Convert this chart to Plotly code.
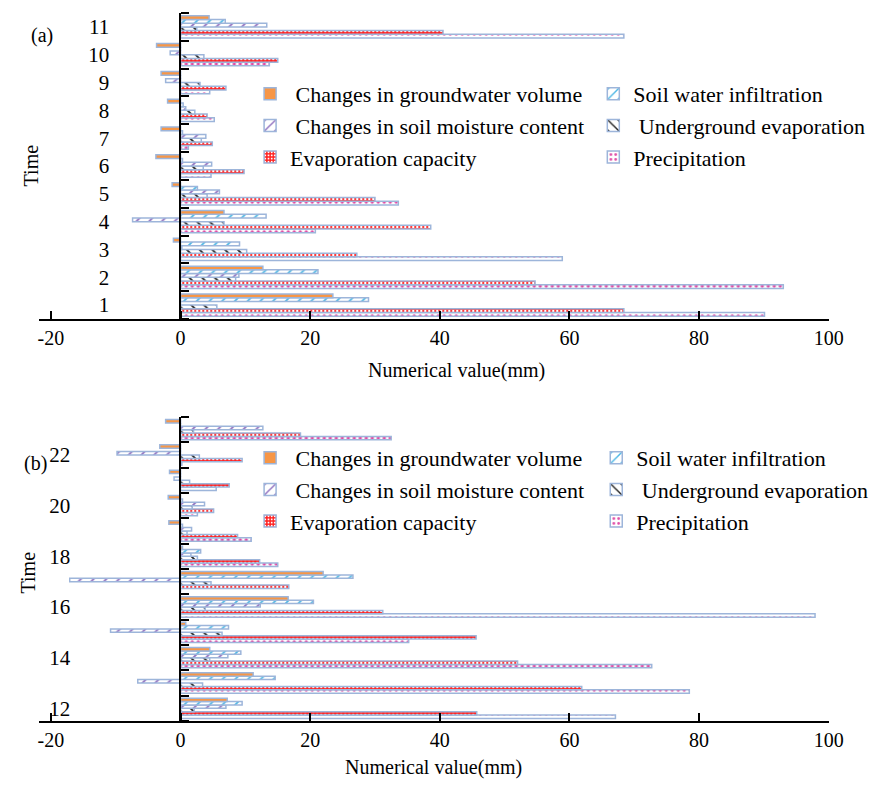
import plotly.graph_objects as go

W, H = 877, 790

# ---------------- data ----------------
times_a = list(range(1, 12))
groundwater_a = [23.5, 12.7, -1.1, 6.7, -1.3, -3.8, -3.0, -2.0, -3.0, -3.7, 4.4]
infiltration_a = [29.0, 21.2, 9.1, 13.2, 2.6, 0.3, 0.3, 0.4, 0.0, 0.0, 6.9]
soil_moist_a = [0.0, 9.0, 0.2, -7.4, 6.0, 4.8, 3.9, 0.8, -2.3, -1.6, 13.3]
under_evap_a = [5.6, 8.5, 10.2, 6.7, 4.1, 3.5, 3.2, 2.2, 3.0, 3.6, 2.5]
evap_cap_a = [68.4, 54.7, 27.2, 38.6, 30.0, 9.8, 4.9, 4.1, 7.0, 15.0, 40.5]
precip_a = [90.1, 93.0, 58.9, 20.8, 33.6, 4.7, 1.2, 5.2, 4.5, 13.7, 68.4]

times_b = list(range(12, 24))
groundwater_b = [7.2, 11.2, 4.5, 0.8, 16.6, 22.0, 0.3, -1.8, -1.9, -1.7, -3.2, -2.3]
infiltration_b = [9.5, 14.6, 9.3, 7.4, 20.5, 26.6, 3.1, 0.3, 0.3, 0.0, 0.0, 0.0]
soil_moist_b = [7.0, -6.6, 7.3, -10.8, 12.3, -17.1, 1.6, 1.7, 3.7, -1.0, -9.8, 12.7]
under_evap_b = [2.1, 3.4, 4.5, 6.4, 3.8, 4.7, 2.6, 1.0, 1.8, 1.4, 2.9, 2.0]
evap_cap_b = [45.7, 61.9, 52.0, 45.6, 31.2, 16.7, 12.2, 8.8, 5.1, 7.5, 9.5, 18.5]
precip_b = [67.1, 78.5, 72.7, 35.2, 97.9, 0.0, 15.0, 10.9, 2.6, 5.5, 0.2, 32.5]

x_ticks = [-20, 0, 20, 40, 60, 80, 100]
x_ticktext = ["-20", "0", "20", "40", "60", "80", "100"]
y_ticks_b = [12, 14, 16, 18, 20, 22]

# bar order bottom -> top inside each group
names = ["Precipitation", "Evaporation capacity", "\u00a0Underground evaporation",
         "\u00a0Changes in soil moisture content", "Soil water infiltration",
         "\u00a0Changes in groundwater volume"]
# legend column of each series (1 = left column, 2 = right column)
legend_col = [2, 1, 2, 1, 2, 1]

OUTLINE = "#9DB5DA"
FONT = "Liberation Serif"

styles = [
    dict(color="white", pattern=dict(shape=".", fgcolor="#E04CA6", bgcolor="white", size=6, solidity=0.25, fillmode="replace")),
    dict(color="#FF1E1E", pattern=dict(shape=".", fgcolor="white", bgcolor="#FF2424", size=4, solidity=0.3, fillmode="replace")),
    dict(color="white", pattern=dict(shape="\\", fgcolor="#222222", bgcolor="white", size=9, solidity=0.2, fillmode="replace")),
    dict(color="white", pattern=dict(shape="/", fgcolor="#8E6FBF", bgcolor="white", size=9, solidity=0.2, fillmode="replace")),
    dict(color="white", pattern=dict(shape="/", fgcolor="#4CB6E4", bgcolor="white", size=9, solidity=0.2, fillmode="replace")),
    dict(color="#F79646", pattern=dict(shape="")),
]


def px_x(p):
    return p / W


def px_y(p):
    return 1 - p / H


fig = go.Figure()

series_a = [precip_a, evap_cap_a, under_evap_a, soil_moist_a, infiltration_a, groundwater_a]
series_b = [precip_b, evap_cap_b, under_evap_b, soil_moist_b, infiltration_b, groundwater_b]

for nm, vals, st, col in zip(names, series_a, styles, legend_col):
    fig.add_trace(go.Bar(
        x=vals, y=times_a, orientation="h", name=nm,
        marker=dict(color=st["color"], pattern=st["pattern"], line=dict(color=OUTLINE, width=1.5)),
        xaxis="x", yaxis="y", legend="legend" if col == 1 else "legend2",
    ))
for nm, vals, st, col in zip(names, series_b, styles, legend_col):
    fig.add_trace(go.Bar(
        x=vals, y=times_b, orientation="h", name=nm,
        marker=dict(color=st["color"], pattern=st["pattern"], line=dict(color=OUTLINE, width=1.5)),
        xaxis="x2", yaxis="y2", legend="legend3" if col == 1 else "legend4",
    ))

xdom = [px_x(38), px_x(843)]
xcommon = dict(
    range=[-21.8, 100], tickvals=x_ticks, ticktext=x_ticktext,
    showline=True, linecolor="black", linewidth=2,
    ticks="inside", ticklen=8, tickwidth=2, tickcolor="black",
    showgrid=False, zeroline=False,
    tickfont=dict(family=FONT, size=20, color="black"),
    domain=xdom,
)
ycommon = dict(
    anchor="free", position=px_x(182),
    showline=True, linecolor="black", linewidth=2,
    ticks="", showgrid=False, zeroline=False,
    tickfont=dict(family=FONT, size=21, color="black"),
)
minor_common = dict(tickmode="linear", dtick=1, ticks="inside", ticklen=8,
                    tickwidth=2, tickcolor="black", showgrid=False)


def leg(x_px, top_px):
    return dict(x=px_x(x_px), y=px_y(top_px), xanchor="left", yanchor="top",
                orientation="v", traceorder="reversed",
                font=dict(family=FONT, size=22, color="black"),
                bgcolor="rgba(0,0,0,0)", borderwidth=0)


def ann(text, xp, yp, angle=0):
    return dict(text=text, x=px_x(xp), y=px_y(yp), xref="paper", yref="paper",
                xanchor="center", yanchor="middle", textangle=angle,
                showarrow=False, font=dict(family=FONT, size=20, color="black"))


fig.update_layout(
    width=W, height=H,
    margin=dict(l=0, r=0, t=0, b=0),
    paper_bgcolor="white", plot_bgcolor="rgba(0,0,0,0)",
    barmode="group", bargap=0.2, bargroupgap=0.0,
    font=dict(family=FONT, size=20, color="black"),
    xaxis=dict(anchor="y", **xcommon),
    xaxis2=dict(anchor="y2", **xcommon),
    yaxis=dict(domain=[px_y(319), px_y(13)], range=[0.5, 11.5],
               tickvals=times_a, ticklabelstandoff=66,
               minor=dict(minor_common, tick0=0.5), **ycommon),
    yaxis2=dict(domain=[px_y(721), px_y(417)], range=[11.5, 23.5],
                tickvals=y_ticks_b, ticklabelstandoff=105,
                minor=dict(minor_common, tick0=11.5), **ycommon),
    legend=leg(253, 73),
    legend2=leg(603, 73),
    legend3=leg(253, 437),
    legend4=leg(606, 437),
    annotations=[
        ann("Numerical value(mm)", 463, 370),
        ann("Numerical value(mm)", 440, 767),
        ann("Time", 30, 165, -90),
        ann("Time", 27, 572, -90),
        ann("(a)", 41, 35),
        ann("(b)", 34, 463),
    ],
)

fig.write_html("out.html")
